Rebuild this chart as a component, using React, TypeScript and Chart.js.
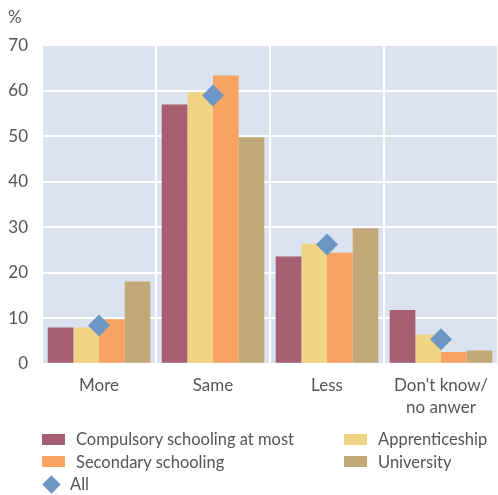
import React, { useEffect, useRef } from "react";
import { Chart, registerables } from "chart.js";

Chart.register(...registerables);

const categories: (string | string[])[] = ["More", "Same", "Less", ["Don't know/", "no anwer"]];
const compulsory = [8.0, 57.0, 23.6, 11.8];
const apprenticeship = [8.0, 59.7, 26.4, 6.4];
const secondary = [9.8, 63.4, 24.4, 2.6];
const university = [18.1, 49.8, 29.8, 2.9];
const allValues = [8.4, 59.0, 26.2, 5.4];

const seriesNames = ["Compulsory schooling at most", "Apprenticeship", "Secondary schooling", "University", "All"];
const colors = ["#A65E72", "#F0D485", "#F8A362", "#C4A978", "#6C97C4"];

const FONT = "Lato, 'Open Sans', sans-serif";
const TEXT = "#555555";

const bgPlugin = {
  id: "plotBg",
  beforeDraw(chart: any) {
    const { ctx, chartArea } = chart;
    ctx.save();
    ctx.fillStyle = "#DAE3EF";
    ctx.fillRect(chartArea.left, chartArea.top, chartArea.right - chartArea.left, chartArea.bottom - chartArea.top);
    ctx.restore();
  },
};

export default function App() {
  const ref = useRef<HTMLCanvasElement>(null);
  useEffect(() => {
    if (!ref.current) return;
    const barDs = (label: string, data: number[], color: string) => ({
      type: "bar" as const,
      label,
      data,
      backgroundColor: color,
      borderWidth: 0,
      categoryPercentage: 0.9,
      barPercentage: 1.0,
      order: 1,
    });
    const chart = new Chart(ref.current, {
      type: "bar",
      data: {
        labels: categories,
        datasets: [
          barDs(seriesNames[0], compulsory, colors[0]),
          barDs(seriesNames[1], apprenticeship, colors[1]),
          barDs(seriesNames[2], secondary, colors[2]),
          barDs(seriesNames[3], university, colors[3]),
          {
            type: "line" as const,
            label: seriesNames[4],
            data: allValues,
            showLine: false,
            pointStyle: "rectRot",
            pointRadius: 11,
            pointHoverRadius: 11,
            pointBackgroundColor: colors[4],
            pointBorderWidth: 0,
            borderColor: colors[4],
            backgroundColor: colors[4],
            order: 0,
          } as any,
        ],
      },
      options: {
        animation: false,
        responsive: false,
        maintainAspectRatio: false,
        layout: { autoPadding: false, padding: { left: 8, right: 0, top: 2, bottom: 4 } },
        plugins: {
          legend: { display: false },
          tooltip: { enabled: false },
          title: {
            display: true,
            text: "%",
            align: "start",
            color: TEXT,
            font: { family: FONT, size: 17, weight: "normal" },
            padding: { top: 5, bottom: 18 },
          },
        },
        scales: {
          x: {
            grid: { color: "#FFFFFF", lineWidth: 2, offset: true, drawTicks: false },
            border: { display: false },
            afterFit(scale: any) {
              scale.paddingLeft = 0;
              scale.paddingRight = 0;
            },
            ticks: {
              color: TEXT,
              font: { family: FONT, size: 17, lineHeight: 1.33 },
              padding: 10,
              maxRotation: 0,
            },
          },
          y: {
            min: 0,
            max: 70,
            grid: { color: "#FFFFFF", lineWidth: 2, drawTicks: false },
            border: { display: false },
            afterFit(scale: any) {
              scale.width = 34;
            },
            ticks: {
              stepSize: 10,
              color: TEXT,
              font: { family: FONT, size: 17 },
              padding: 14,
            },
          },
        },
      },
      plugins: [bgPlugin],
    });
    return () => chart.destroy();
  }, []);

  const legendItem = (i: number) => (
    <div key={i} style={{ display: "flex", alignItems: "center", height: 22.5 }}>
      {i === 4 ? (
        <span style={{ width: 23, display: "inline-flex", justifyContent: "flex-start" }}>
          <span
            style={{
              display: "inline-block",
              width: 13,
              height: 13,
              marginLeft: 3,
              background: colors[i],
              transform: "rotate(45deg)",
            }}
          />
        </span>
      ) : (
        <span style={{ display: "inline-block", width: 23, height: 11, background: colors[i] }} />
      )}
      <span style={{ marginLeft: i === 4 ? 5 : 11 }}>{seriesNames[i]}</span>
    </div>
  );

  return (
    <div style={{ position: "absolute", left: 0, top: 0, width: 498, height: 495, background: "#fff" }}>
      <canvas ref={ref} width={498} height={433} style={{ display: "block" }} />
      <div
        style={{
          position: "absolute",
          left: 42,
          top: 428,
          width: 456,
          display: "grid",
          gridTemplateColumns: "302px 154px",
          fontFamily: FONT,
          fontSize: 16.5,
          color: TEXT,
          lineHeight: "22.5px",
        }}
      >
        {legendItem(0)}
        {legendItem(1)}
        {legendItem(2)}
        {legendItem(3)}
        {legendItem(4)}
      </div>
    </div>
  );
}
